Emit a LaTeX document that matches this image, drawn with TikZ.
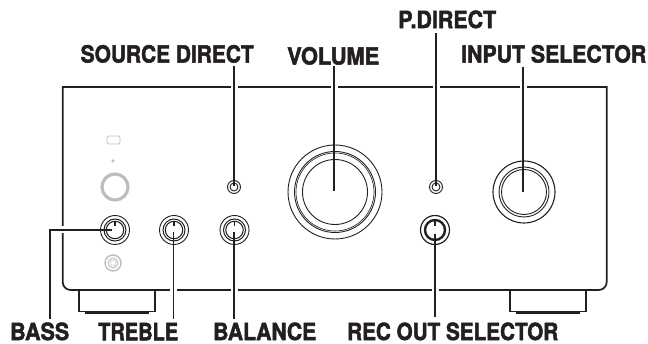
\documentclass[tikz,border=0pt]{standalone}
\usepackage{fontspec}
\setmainfont{TeX Gyre Heros}[BoldFeatures={FakeBold=2.2}]
\definecolor{ink}{HTML}{231F20}
\definecolor{faint}{HTML}{BDBDBD}
\newcommand{\lbl}[2]{\resizebox{#1pt}{17.5pt}{\textbf{#2}}}
\tikzset{
  body/.style={draw=ink,line width=1.7pt},
  foot/.style={draw=ink,line width=1.3pt},
  footbase/.style={draw=ink,line width=1.9pt},
  lead/.style={draw=ink,line width=1.8pt},
  halo/.style={draw=white,line width=7pt},
  ringline/.style={draw=ink,line width=0.9pt,fill=none},
  greyline/.style={draw=faint,line width=0.9pt,fill=none},
  tick/.style={draw=ink,line width=1.2pt},
  txt/.style={text=ink,inner sep=0pt,anchor=south west}
}
\begin{document}
\begin{tikzpicture}[x=1pt,y=-1pt]
\useasboundingbox (0,0) rectangle (648,344);
% labels
\node[txt] (lsrc) at (80.5,63) {\lbl{173}{SOURCE DIRECT}};
\node[txt] (lvol) at (287,65) {\lbl{92}{VOLUME}};
\node[txt] (lpd) at (398,28.5) {\lbl{98}{P.DIRECT}};
\node[txt] (lin) at (461,63) {\lbl{185}{INPUT SELECTOR}};
\node[txt] (lbass) at (10,340.5) {\lbl{59}{BASS}};
\node[txt] (ltre) at (98,340.5) {\lbl{80}{TREBLE}};
\node[txt] (lbal) at (213,340.5) {\lbl{103}{BALANCE}};
\node[txt] (lrec) at (347,340.5) {\lbl{211}{REC OUT SELECTOR}};
% connector ends
\coordinate (srcTop) at (234,66);
\coordinate (volTop) at (334,66);
\coordinate (pdTop) at (436,33);
\coordinate (inTop) at (523,67);
\coordinate (bassLow) at (50,319);
\coordinate (bassBend) at (50,230);
\coordinate (treLow) at (173.5,319);
\coordinate (balLow) at (234,319);
\coordinate (recLow) at (435,317);
\coordinate (srcEnd) at (234,186);
\coordinate (volEnd) at (334,191);
\coordinate (pdEnd) at (436,186);
\coordinate (inEnd) at (523,192);
\coordinate (bassEnd) at (112,230);
\coordinate (treEnd) at (173.5,232);
\coordinate (balEnd) at (234,232);
\coordinate (recEnd) at (435,234);
% cabinet
\draw[body] (62.7,87) -- (606.7,87) -- (606.7,282) arc[start angle=0,end angle=90,radius=8] -- (70.7,290) arc[start angle=90,end angle=180,radius=8] -- cycle;
% feet
\draw[foot] (79,290) -- (79,311.5) -- (155,311.5) -- (155,290);
\draw[footbase] (85,313) -- (149,313);
\draw[foot] (510,290) -- (510,311.5) -- (586,311.5) -- (586,290);
\draw[footbase] (516,313) -- (580,313);
% halos where connectors cross the cabinet
\draw[halo] (srcTop |- 0,80) -- (srcTop |- 0,94);
\draw[halo] (volTop |- 0,80) -- (volTop |- 0,94);
\draw[halo] (pdTop |- 0,80) -- (pdTop |- 0,94);
\draw[halo] (inTop |- 0,80) -- (inTop |- 0,94);
\draw[halo] (treLow |- 0,284) -- (treLow |- 0,296);
\draw[halo] (balLow |- 0,284) -- (balLow |- 0,296);
\draw[halo] (recLow |- 0,284) -- (recLow |- 0,296);
\draw[halo] (56,230) -- (69,230);
% left panel, grey items
\draw[greyline,rounded corners=1.5pt] (107,136) rectangle (120,144);
\node[circle,fill=faint,inner sep=0pt,minimum size=3.5pt] (led) at (113,161) {};
\node[circle,draw=faint,line width=3.2pt,inner sep=0pt,minimum size=26pt] (power) at (115,187) {};
\node[circle,greyline,line width=1.4pt,inner sep=0pt,minimum size=16pt] (jack) at (113,263) {};
\node[circle,greyline,inner sep=0pt,minimum size=10pt] (jacka) at (113,263) {};
\node[circle,greyline,line width=.5pt,inner sep=0pt,minimum size=6pt] (jackb) at (113,263) {};
% small knobs
\foreach \n/\x in {bass/115,tre/174,bal/234.5}{
  \node[circle,ringline,inner sep=0pt,minimum size=29pt] (\n O) at (\x,230) {};
  \node[circle,ringline,line width=1pt,inner sep=0pt,minimum size=22pt] (\n M) at (\x,230) {};
  \node[circle,ringline,line width=1pt,inner sep=0pt,minimum size=17.5pt] (\n I) at (\x,230) {};
  \draw[tick] (\n I.north) -- ++(0,5);
}
% record out
\node[circle,draw=ink,line width=1.2pt,inner sep=0pt,minimum size=29pt] (recO) at (435,230) {};
\node[circle,draw=ink,line width=2.4pt,inner sep=0pt,minimum size=20pt] (recI) at (435,230) {};
\draw[tick] (recI.north) -- ++(0,7);
% direct knobs
\foreach \n/\x in {src/234,pd/436}{
  \node[circle,ringline,line width=.9pt,inner sep=0pt,minimum size=13pt] (\n O) at (\x,187) {};
  \node[circle,ringline,line width=.9pt,inner sep=0pt,minimum size=8pt] (\n I) at (\x,187) {};
}
% volume
\node[circle,ringline,inner sep=0pt,minimum size=94pt] (volA) at (335,192) {};
\node[circle,ringline,inner sep=0pt,minimum size=81pt] (volB) at (335,192) {};
\node[circle,ringline,line width=.6pt,inner sep=0pt,minimum size=78pt] (volC) at (335,192) {};
\node[circle,ringline,inner sep=0pt,minimum size=65pt] (volD) at (335,192) {};
% input selector
\node[circle,draw=ink,line width=1.1pt,inner sep=0pt,minimum size=62pt] (inA) at (524,192) {};
\node[circle,ringline,inner sep=0pt,minimum size=50pt] (inB) at (524,192) {};
\node[circle,ringline,inner sep=0pt,minimum size=45pt] (inC) at (524,192) {};
% connectors
\draw[lead] (srcTop) -- (srcEnd);
\draw[lead] (volTop) -- (volEnd);
\draw[lead] (pdTop) -- (pdEnd);
\draw[lead] (inTop) -- (inEnd);
\draw[lead] (bassLow) -- (bassBend) -- (bassEnd);
\draw[lead] (treLow) -- (treEnd);
\draw[lead] (balLow) -- (balEnd);
\draw[lead] (recLow) -- (recEnd);
\end{tikzpicture}
\end{document}
